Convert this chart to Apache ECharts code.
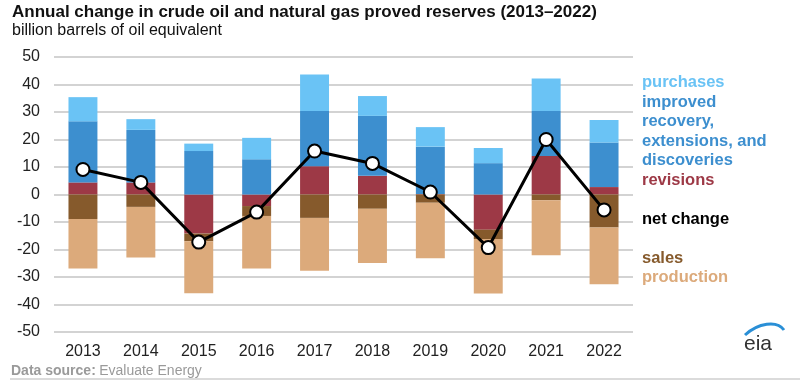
<!DOCTYPE html>
<html>
<head>
<meta charset="utf-8">
<script src="https://cdn.jsdelivr.net/npm/echarts@6/dist/echarts.min.js"></script>
<style>
html,body{margin:0;padding:0;background:#fff;}
#c{width:800px;height:380px;}
</style>
</head>
<body>
<div id="c"></div>
<script>
var years = ['2013','2014','2015','2016','2017','2018','2019','2020','2021','2022'];
var revisions = [4.4, 4.4, -14.2, -4.2, 10.3, 6.8, 0.2, -12.8, 14.0, 2.7];
var improved = [22.2, 19.1, 15.8, 12.8, 20.1, 21.8, 17.2, 11.4, 16.4, 16.2];
var purchases = [8.8, 3.9, 2.7, 7.8, 13.2, 7.2, 7.1, 5.5, 11.8, 8.2];
var sales = [-8.9, -4.5, -2.8, -3.6, -8.5, -5.2, -3.0, -3.4, -2.1, -12.0];
var production = [-18.0, -18.4, -18.9, -19.1, -19.2, -19.7, -20.2, -19.8, -20.0, -20.6];
var netChange = [9.1, 4.4, -17.3, -6.4, 15.8, 11.3, 0.9, -19.3, 20.0, -5.6];

var C = {
  purchases: '#6ac3f5',
  improved: '#3d8fcf',
  revisions: '#9d3946',
  sales: '#865a2c',
  production: '#dcaa7b',
  net: '#000000'
};

var chart = echarts.init(document.getElementById('c'), null, {renderer: 'canvas'});
var font = 'Liberation Sans, Arial, sans-serif';

function bar(name, data, color) {
  return {
    name: name, type: 'bar', stack: 'total', data: data, barWidth: '50%',
    itemStyle: {color: color}, emphasis: {disabled: true}, animation: false
  };
}

var legendItems = [
  {t: 'purchases', y: 83, c: C.purchases},
  {t: 'improved', y: 103, c: C.improved},
  {t: 'recovery,', y: 122, c: C.improved},
  {t: 'extensions, and', y: 142, c: C.improved},
  {t: 'discoveries', y: 161, c: C.improved},
  {t: 'revisions', y: 181, c: C.revisions},
  {t: 'net change', y: 220, c: '#000'},
  {t: 'sales', y: 259, c: C.sales},
  {t: 'production', y: 278, c: C.production}
];

var graphics = [
  {type: 'text', left: 12, top: 4, style: {text: 'Annual change in crude oil and natural gas proved reserves (2013–2022)', font: 'bold 17px ' + font, fill: '#111'}},
  {type: 'text', left: 12, top: 23, style: {text: 'billion barrels of oil equivalent', font: '16px ' + font, fill: '#111'}},
  {type: 'text', left: 11, top: 364, style: {rich: {b: {fill: '#9a9a9a', fontWeight: 'bold', fontSize: 14, fontFamily: font}, r: {fontSize: 14, fontFamily: font, fill: '#9a9a9a'}}, text: '{b|Data source:} {r|Evaluate Energy}'}},
  {type: 'line', shape: {x1: 10, y1: 379, x2: 800, y2: 379}, style: {stroke: '#cfcfcf', lineWidth: 1.5}},
  {type: 'text', left: 744, top: 334, style: {text: 'eia', font: '21px ' + font, fill: '#333'}},
  {type: 'bezierCurve', shape: {x1: 745, y1: 335, x2: 784, y2: 330, cpx1: 758, cpy1: 323, cpx2: 777, cpy2: 320}, style: {stroke: '#2a8fd6', lineWidth: 3, fill: null}}
];
legendItems.forEach(function (it) {
  graphics.push({type: 'text', left: 642, top: it.y - 9, style: {text: it.t, font: 'bold 16.5px ' + font, fill: it.c}});
});

chart.setOption({
  animation: false,
  backgroundColor: '#fff',
  grid: {left: 54, right: 167, top: 57, bottom: 48, containLabel: false},
  xAxis: {
    type: 'category', data: years,
    axisLine: {show: false}, axisTick: {show: false},
    axisLabel: {color: '#222', fontSize: 16, fontFamily: font, margin: 12}
  },
  yAxis: {
    type: 'value', min: -50, max: 50, interval: 10,
    axisLine: {show: false}, axisTick: {show: false},
    axisLabel: {color: '#222', fontSize: 16, fontFamily: font, margin: 14},
    splitLine: {lineStyle: {color: '#c4c4c4', width: 1.5}}
  },
  series: [
    bar('revisions', revisions, C.revisions),
    bar('improved recovery, extensions, and discoveries', improved, C.improved),
    bar('purchases', purchases, C.purchases),
    bar('sales', sales, C.sales),
    bar('production', production, C.production),
    {
      name: 'net change', type: 'line', data: netChange, z: 10,
      lineStyle: {color: '#000', width: 3},
      symbol: 'circle', symbolSize: 13,
      itemStyle: {color: '#fff', borderColor: '#000', borderWidth: 2},
      emphasis: {disabled: true}, animation: false
    }
  ],
  graphic: graphics
});
</script>
</body>
</html>
